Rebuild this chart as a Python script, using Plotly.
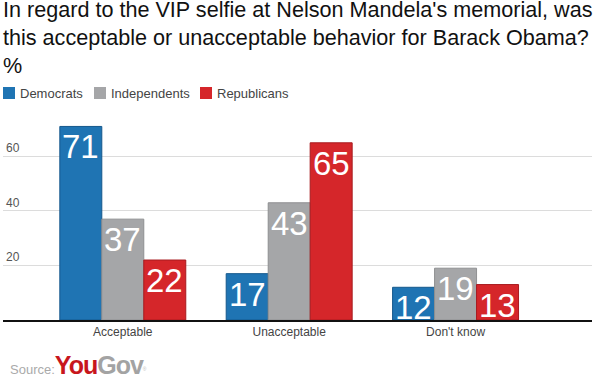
import plotly.graph_objects as go

categories = ["Acceptable", "Unacceptable", "Don't know"]
series_names = ["Democrats", "Independents", "Republicans"]
democrats = [71, 17, 12]
independents = [37, 43, 19]
republicans = [22, 65, 13]
tick_values = [20, 40, 60]

fill_colors = ["#1f74b3", "#a5a6a8", "#d5262a"]
line_colors = ["#15588c", "#8f9092", "#a81b1f"]

W, H = 600, 384
ML, MR, MT, MB = 3, 8, 112, 64
PW, PH = W - ML - MR, H - MT - MB


def px_x(px):
    return (px - ML) / PW


def px_y(py):
    return (H - MB - py) / PH


FONT = "Liberation Sans, Arial, sans-serif"
all_series = [democrats, independents, republicans]

fig = go.Figure()
for name, vals, fc, lc in zip(series_names, all_series, fill_colors, line_colors):
    fig.add_trace(go.Bar(
        name=name, x=categories, y=vals,
        marker=dict(color=fc, line=dict(color=lc, width=1)),
        showlegend=False, hoverinfo="x+y+name",
    ))

fig.update_layout(
    width=W, height=H,
    margin=dict(l=ML, r=MR, t=MT, b=MB),
    paper_bgcolor="white", plot_bgcolor="white",
    barmode="group", bargap=0.243, bargroupgap=0,
    font=dict(family=FONT, color="#333"),
    title=dict(
        text="In regard to the VIP selfie at Nelson Mandela's memorial, was<br>this acceptable or unacceptable behavior for Barack Obama?<br>%",
        x=0.005, xref="container", xanchor="left", y=1 - 17 / H, yref="container", yanchor="top",
        pad=dict(t=0, l=0),
        font=dict(family=FONT, size=21.6, color="#111"),
    ),
    showlegend=False,
)
xrange = [-0.72, 2.82]
fig.update_xaxes(range=xrange, showline=True, linecolor="#111", linewidth=1.5,
                 ticks="", tickfont=dict(size=12, color="#444"), showgrid=False)
fig.update_yaxes(range=[0, 76.3], tickvals=tick_values, ticklabelposition="inside top",
                 showgrid=True, gridcolor="#dcdcdc", gridwidth=1, zeroline=False,
                 tickfont=dict(size=12, color="#555"))

# value labels inside the top of each bar
unit_px = PW / (xrange[1] - xrange[0])
bar_w_units = (1 - 0.243) / 3
for i, vals in enumerate(all_series):
    shift = (i - 1) * bar_w_units * unit_px
    for cat, v in zip(categories, vals):
        fig.add_annotation(x=cat, y=v, xref="x", yref="y", text=str(v), showarrow=False,
                           xanchor="center", yanchor="top", xshift=shift, yshift=0,
                           font=dict(family=FONT, size=33, color="white"))

# legend drawn manually to match the compact original layout
legend_sq_x = [3, 94, 200]
for name, fc, sx in zip(series_names, fill_colors, legend_sq_x):
    fig.add_shape(type="rect", xref="paper", yref="paper",
                  x0=px_x(sx), x1=px_x(sx + 12), y0=px_y(99), y1=px_y(87),
                  fillcolor=fc, line=dict(width=0))
    fig.add_annotation(xref="paper", yref="paper", x=px_x(sx + 15), y=px_y(93),
                       xanchor="left", yanchor="middle", showarrow=False, text=name,
                       font=dict(family=FONT, size=13, color="#444"))

fig.add_annotation(
    xref="paper", yref="paper", x=px_x(8), y=px_y(381), xanchor="left", yanchor="bottom",
    showarrow=False,
    text="<span style='font-size:13px;color:#aaaaaa'>Source:</span>"
         "<span style='font-size:25px;color:#c8161d;letter-spacing:-1px'><b>You</b></span>"
         "<span style='font-size:25px;color:#a3a3a3;letter-spacing:-1px'><b>Gov</b></span>"
         "<span style='font-size:7px;color:#bbbbbb'><sup>®</sup></span>",
)

fig.write_html("out.html", config={"displayModeBar": False},
               post_script="document.body.style.margin='0';")
